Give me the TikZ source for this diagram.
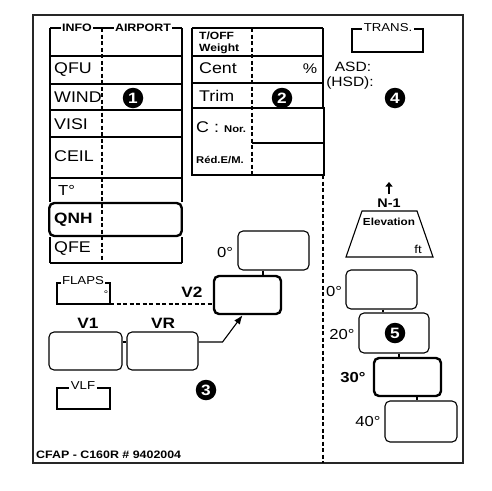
\documentclass[tikz,border=0pt]{standalone}
\usepackage{fontspec}
\setmainfont[FakeStretch=1.15]{Liberation Sans}
\usetikzlibrary{arrows.meta,calc}
\newcommand\fsz[1]{\fontsize{#1}{#1}\selectfont}
\begin{document}
\begin{tikzpicture}[x=1pt,y=-1pt,
  lbl/.style={inner sep=0pt, font=\fsz{15.5}},
  wl/.style={lbl, anchor=west},
  hdr/.style={fill=white, inner sep=1.5pt, font=\bfseries\fsz{10.8}},
  brk/.style={fill=white, inner sep=1.5pt, font=\fsz{11.5}},
  num/.style={circle, fill=black, text=white, inner sep=0pt, minimum size=20.5pt, font=\bfseries\fsz{15}},
  tl/.style={line width=1.1pt},
  dl/.style={line width=1.1pt, dash pattern=on 4pt off 2.5pt},
  rbox/.style={draw, rounded corners=5pt, line width=1.1pt, inner sep=0pt},
  tbox/.style={rbox, line width=2.4pt},
  conn/.style={line width=1.1pt}
]
\useasboundingbox (0,0) rectangle (492,490);
% outer frame
\draw[line width=1.8pt, black!85] (33,15) rectangle (463,463);

% ---------------- left table ----------------
\draw[tl] (50,28) -- (50,202) (50,237) -- (50,263);
\draw[tl] (182,28) -- (182,202) (182,237) -- (182,263);
\foreach \yy in {28,56,84,110,137,178,263} \draw[tl] (50,\yy) -- (182,\yy);
\draw[dl] (102,28) -- (102,263);
\node[hdr] (hinfo) at (77,28) {INFO};
\node[hdr] (hair) at (143,28) {AIRPORT};
\node[tbox, minimum width=132.5pt, minimum height=33pt] (qnhbox) at (115.5,219.5) {};
\node[wl] (qfu) at (54,70) {QFU};
\node[wl] (wind) at (54,97) {WIND};
\node[wl] (visi) at (54,124) {VISI};
\node[wl] (ceil) at (54,156) {CEIL};
\node[wl, font=\fsz{14.5}] (tdeg) at (58,190) {T°};
\node[wl, font=\bfseries\fsz{15}] (qnh) at (54,220) {QNH};
\node[wl] (qfe) at (54,249) {QFE};
\node[num] (n1) at (133,98) {1};

% ---------------- middle table ----------------
\draw[tl] (192,28) -- (192,108) (323,28) -- (323,108);
\foreach \yy in {28,56,83} \draw[tl] (192,\yy) -- (323,\yy);
\draw[line width=2.4pt] (192,108) rectangle (324,175);
\draw[dl] (252,28) -- (252,175);
\draw[tl] (252,143) -- (324,143);
\node[anchor=west, inner sep=0pt, font=\bfseries\fsz{10.5}] (tow1) at (199,35.5) {T/OFF};
\node[anchor=west, inner sep=0pt, font=\bfseries\fsz{10.5}] (tow2) at (199,49) {Weight};
\node[wl] (cent) at (199,68.5) {Cent};
\node[lbl, font=\fsz{14}] (pct) at (310,69) {\%};
\node[wl] (trim) at (199,96) {Trim};
\node[wl] (cnor) at (196,127) {C :};
\node[anchor=west, inner sep=0pt, font=\bfseries\fsz{9.8}] (nor) at (224,129) {Nor.};
\node[anchor=west, inner sep=0pt, font=\bfseries\fsz{9.8}] (red) at (196,160) {Réd.E/M.};
\node[num] (n2) at (282,98) {2};

% right dashed separator
\draw[dl] (323,175) -- (323,463);

% ---------------- right top ----------------
\draw[tl] (352,29) rectangle (423,52);
\node[brk] (trans) at (388,28) {TRANS.};
\node[lbl, font=\fsz{13.5}] (asd) at (353,67) {ASD:};
\node[lbl, font=\fsz{13.5}] (hsd) at (350,83) {(HSD):};
\node[num] (n4) at (395,98) {4};

% N-1 / elevation
\draw[line width=1.8pt, -{Triangle[length=4.5pt,width=7pt]}] (389,194) -- (389,182);
\node[lbl, font=\bfseries\fsz{12.5}] (n1lbl) at (389,203) {N-1};
\draw[tl] (362,211) -- (417,211) -- (433,257) -- (346,257) -- cycle;
\node[lbl, font=\bfseries\fsz{10.2}] (elev) at (389,222) {Elevation};
\node[lbl, font=\fsz{11.5}] (ft) at (418,249) {ft};

% right stack of boxes
\node[rbox, minimum width=71pt, minimum height=39pt] (r0) at (381.5,289.5) {};
\node[rbox, minimum width=70pt, minimum height=40pt] (r20) at (394,333) {};
\node[tbox, minimum width=67pt, minimum height=38pt] (r30) at (407.5,377) {};
\node[rbox, minimum width=72pt, minimum height=41pt] (r40) at (421,421.5) {};
\draw[conn] ([xshift=1.5pt]r0.south) -- ([xshift=1.5pt]r0.south |- r20.north);
\draw[conn] ([xshift=5pt]r20.south) -- ([xshift=5pt]r20.south |- r30.north);
\draw[conn] ([xshift=9.5pt]r30.south) -- ([xshift=9.5pt]r30.south |- r40.north);
\node[lbl, font=\fsz{14.5}] (l0r) at (334,292) {0°};
\node[lbl, font=\fsz{14.5}] (l20) at (342,335) {20°};
\node[lbl, font=\bfseries\fsz{14.5}] (l30) at (353,378) {30°};
\node[lbl, font=\fsz{14.5}] (l40) at (368,422) {40°};
\node[num] (n5) at (395,333) {5};

% ---------------- left bottom ----------------
\node[rbox, minimum width=71pt, minimum height=39pt] (m0) at (273.5,250.5) {};
\node[tbox, minimum width=67pt, minimum height=38pt] (v2) at (247.5,295) {};
\node[rbox, minimum width=73pt, minimum height=38pt] (v1) at (85.5,351) {};
\node[rbox, minimum width=71pt, minimum height=38pt] (vr) at (162.5,351) {};
\draw[conn] ([xshift=-10.5pt]m0.south) -- ([xshift=-10.5pt]m0.south |- v2.north);
\draw[conn] ([yshift=9pt]v1.east) -- ([yshift=9pt]vr.west);
\draw[conn, -{Latex[length=9pt,width=7pt]}] ([yshift=9pt]vr.east) -- ++(24,0) -- ([xshift=-5pt]v2.south);
\node[lbl, font=\fsz{14.5}] (l0m) at (225,253) {0°};
\node[lbl, font=\bfseries\fsz{15}] (lv2) at (192,292) {V2};
\node[lbl, font=\bfseries\fsz{15}] (lv1) at (88,323) {V1};
\node[lbl, font=\bfseries\fsz{15}] (lvr) at (163,323) {VR};

% flaps bracket
\draw[tl] (57,283) rectangle (110,304);
\coordinate (flapsend) at (110,304);
\node[brk] (flaps) at (83,281) {FLAPS};
\node[lbl, font=\fsz{9.5}] (fdeg) at (106,294) {°};
\draw[dl] (flapsend) -- (flapsend -| v2.west);

% VLF bracket
\draw[tl] (57,388) rectangle (110,409);
\node[brk] (vlf) at (83,386) {VLF};
\node[num] (n3) at (206,390) {3};

\node[anchor=west, inner sep=0pt, font=\bfseries\fsz{10.8}] (cfap) at (36,455) {CFAP - C160R \# 9402004};
\end{tikzpicture}
\end{document}
